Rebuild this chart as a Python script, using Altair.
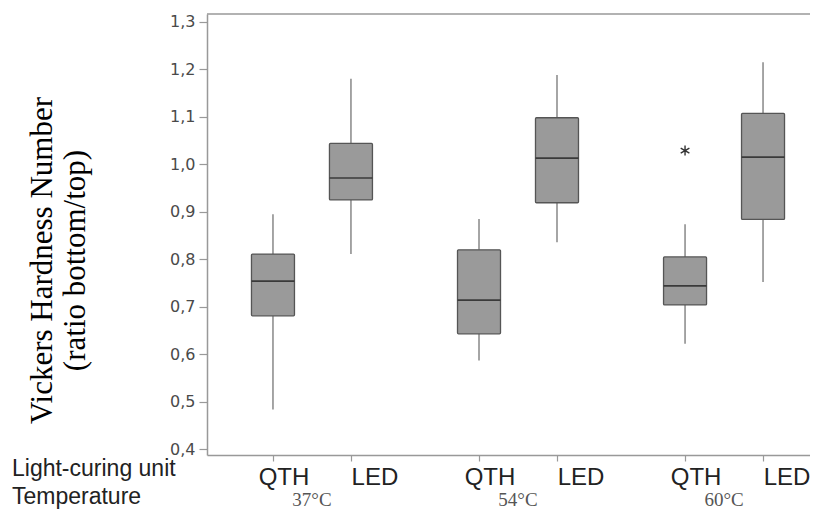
import altair as alt
import pandas as pd

temps = ["37°C", "54°C", "60°C"]
units = ["QTH", "LED"]
# order: 37 QTH, 37 LED, 54 QTH, 54 LED, 60 QTH, 60 LED
lower_whisker = [0.484, 0.811, 0.587, 0.836, 0.622, 0.752]
q1 = [0.681, 0.925, 0.643, 0.919, 0.704, 0.884]
median = [0.754, 0.971, 0.714, 1.013, 0.744, 1.015]
q3 = [0.811, 1.044, 0.820, 1.098, 0.805, 1.107]
upper_whisker = [0.895, 1.180, 0.885, 1.188, 0.874, 1.215]
outlier_temp = ["60°C"]
outlier_unit = ["QTH"]
outlier_value = [1.029]
y_ticks = [0.4, 0.5, 0.6, 0.7, 0.8, 0.9, 1.0, 1.1, 1.2, 1.3]

GROUP_STEP = 2.642
UNIT_PX = 79.3
W, H = 603, 441

rows = []
i = 0
for g, t in enumerate(temps):
    for u, name in enumerate(units):
        rows.append(dict(temp=t, unit=name, pos=g * GROUP_STEP + u,
                         lo=lower_whisker[i], q1=q1[i], med=median[i],
                         q3=q3[i], hi=upper_whisker[i]))
        i += 1
df = pd.DataFrame(rows)

out_rows = []
for t, u, v in zip(outlier_temp, outlier_unit, outlier_value):
    out_rows.append(dict(pos=temps.index(t) * GROUP_STEP + units.index(u), value=v))
df_out = pd.DataFrame(out_rows)

temp_df = pd.DataFrame({"temp": temps,
                        "pos": [g * GROUP_STEP + 0.5 for g in range(len(temps))]})

x_min = -62 / UNIT_PX
xscale = alt.Scale(domain=[x_min, x_min + W / UNIT_PX], nice=False, zero=False)
yscale = alt.Scale(domain=[0.388, 1.3164], nice=False, zero=False)

x_enc = alt.X("pos:Q", scale=xscale,
              axis=alt.Axis(values=list(df["pos"]), labels=False, title=None,
                            grid=False, tickSize=6, tickColor="#999",
                            domainColor="#999", domainWidth=1.5, tickWidth=1.2))
y_axis = alt.Axis(values=y_ticks, grid=False,
                  labelExpr="replace(format(datum.value, '.1f'), '.', ',')",
                  labelFont="DejaVu Sans", labelFontSize=16,
                  labelColor="#4a4a4a", labelPadding=4, tickSize=8,
                  tickColor="#999", domainColor="#999", domainWidth=1.5,
                  tickWidth=1.2,
                  title=["Vickers Hardness Number", "(ratio bottom/top)"],
                  titleFont="Liberation Serif", titleFontSize=31,
                  titleFontWeight="normal", titleColor="#000",
                  titleAngle=270, titleLineHeight=33, titleAlign="center",
                  titleBaseline="middle", titleX=-165, titleY=246)

base = alt.Chart(df)

whisk_lo = base.mark_rule(color="#888", strokeWidth=1.5).encode(
    x=x_enc, y=alt.Y("lo:Q", scale=yscale, axis=y_axis), y2="q1:Q")
whisk_hi = base.mark_rule(color="#888", strokeWidth=1.5).encode(
    x="pos:Q", y="q3:Q", y2="hi:Q")
boxes = base.mark_bar(size=43, fill="#9a9a9a", stroke="#555",
                      strokeWidth=1.3, cornerRadius=1).encode(
    x="pos:Q", y="q1:Q", y2="q3:Q")
meds = base.mark_tick(orient="horizontal", size=43, thickness=1.6,
                      color="#3a3a3a", opacity=1).encode(
    x="pos:Q", y="med:Q")

star = "M0,-1L0,1M-0.87,-0.5L0.87,0.5M-0.87,0.5L0.87,-0.5"
outl = alt.Chart(df_out).mark_point(shape=star, filled=False, stroke="#333",
                                    strokeWidth=1.4, size=100, opacity=1).encode(
    x="pos:Q", y="value:Q")

top_border = alt.Chart(df_out).mark_rule(color="#999", strokeWidth=1.5).encode(
    x=alt.value(0), x2=alt.value(W), y=alt.value(0))

qth_lab = base.transform_filter(alt.datum.unit == "QTH").mark_text(
    font="Liberation Sans", fontSize=24, color="#222", align="center",
    baseline="alphabetic", dx=11).encode(
    x="pos:Q", y=alt.value(471), text="unit:N")
led_lab = base.transform_filter(alt.datum.unit == "LED").mark_text(
    font="Liberation Sans", fontSize=24, color="#222", align="center",
    baseline="alphabetic", dx=24).encode(
    x="pos:Q", y=alt.value(471), text="unit:N")
temp_lab = alt.Chart(temp_df).mark_text(
    font="Liberation Serif", fontSize=19, color="#555", align="center",
    baseline="alphabetic").encode(
    x="pos:Q", y=alt.value(492), text="temp:N")

row_names = pd.DataFrame({"name": ["Light-curing unit", "Temperature"],
                          "row": [0, 1]})
row1 = alt.Chart(row_names).transform_filter(alt.datum.row == 0).mark_text(
    font="Liberation Sans", fontSize=23, color="#222", align="left",
    baseline="alphabetic").encode(x=alt.value(-195), y=alt.value(462), text="name:N")
row2 = alt.Chart(row_names).transform_filter(alt.datum.row == 1).mark_text(
    font="Liberation Sans", fontSize=23, color="#222", align="left",
    baseline="alphabetic").encode(x=alt.value(-195), y=alt.value(490), text="name:N")

chart = alt.layer(whisk_lo, whisk_hi, boxes, meds, outl, top_border,
                  qth_lab, led_lab, temp_lab, row1, row2).properties(
    width=W, height=H,
    autosize=alt.AutoSizeParams(type="none"),
    padding={"left": 199, "top": 6, "right": 0, "bottom": 54},
    background="white",
).configure_view(stroke=None)

chart.save("out.html", embed_options={"renderer": "svg", "actions": False})
